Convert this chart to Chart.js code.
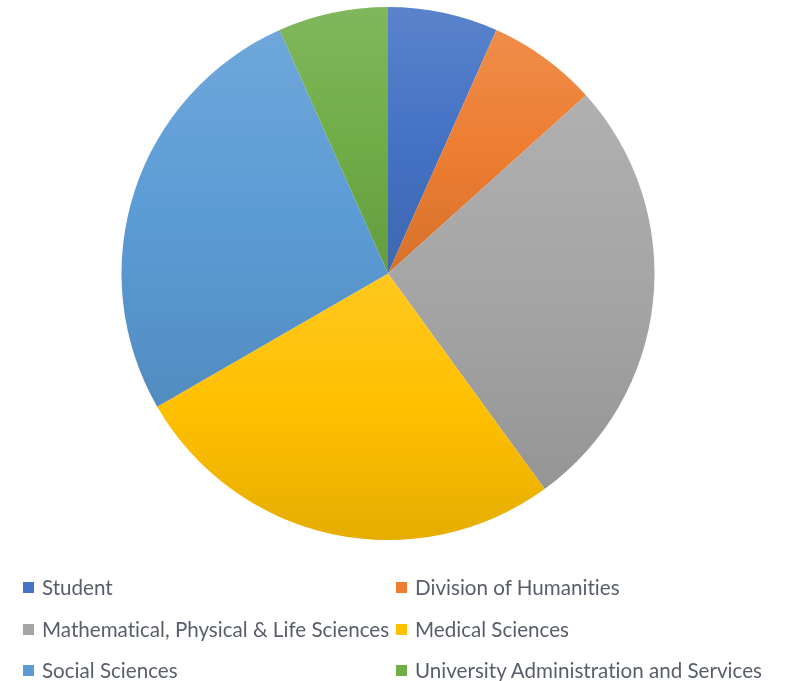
<!DOCTYPE html>
<html>
<head>
<meta charset="utf-8">
<script src="https://cdn.jsdelivr.net/npm/chart.js@4"></script>
<style>
  html, body { margin: 0; padding: 0; background: #ffffff; }
  #wrap { position: relative; width: 787px; height: 681px; }
  #wrap canvas { position: absolute; left: 0; top: 0; }
  .lg { position: absolute; font-family: Lato, "Open Sans", sans-serif; font-size: 20.6px; color: #585e69; white-space: nowrap; line-height: 24px; font-variant-ligatures: none; }
  .lg .sw { position: absolute; left: 0; top: 7px; width: 11px; height: 11px; }
  .lg .tx { position: absolute; left: 19px; top: 0; }
</style>
</head>
<body>
<div id="wrap">
  <canvas id="c" width="787" height="681"></canvas>
  <div id="legend"></div>
</div>
<script>
// ---- data ----
const categories = [
  "Student",
  "Division of Humanities",
  "Mathematical, Physical & Life Sciences",
  "Medical Sciences",
  "Social Sciences",
  "University Administration and Services"
];
const values = [1, 1, 4, 4, 4, 1];

// ---- styles ----
const baseColors = ["#4472C4", "#ED7D31", "#A5A5A5", "#FFC000", "#5B9BD5", "#70AD47"];

function mix(hex, target, t) {
  const n = parseInt(hex.slice(1), 16);
  const r = (n >> 16) & 255, g = (n >> 8) & 255, b = n & 255;
  const tr = target ? 255 : 0;
  const m = c => Math.round(c + (tr - c) * t);
  return `rgb(${m(r)},${m(g)},${m(b)})`;
}

function sliceGradient(ctx) {
  const chart = ctx.chart;
  const i = ctx.dataIndex;
  const base = baseColors[i];
  const ca = chart.chartArea;
  if (!ca || i === undefined) return base;
  const cx = (ca.left + ca.right) / 2, cy = (ca.top + ca.bottom) / 2;
  const r = Math.min(ca.right - ca.left, ca.bottom - ca.top) / 2;
  const total = values.reduce((a, b) => a + b, 0);
  let before = 0;
  for (let k = 0; k < i; k++) before += values[k];
  const a0 = -Math.PI / 2 + before / total * 2 * Math.PI;
  const a1 = a0 + values[i] / total * 2 * Math.PI;
  let ys = [cy, cy + r * Math.sin(a0), cy + r * Math.sin(a1)];
  const inRange = a => { let x = a; while (x < a0) x += 2 * Math.PI; return x <= a1; };
  if (inRange(-Math.PI / 2)) ys.push(cy - r);
  if (inRange(Math.PI / 2)) ys.push(cy + r);
  const y0 = Math.min(...ys), y1 = Math.max(...ys);
  const g = chart.ctx.createLinearGradient(0, y0, 0, y1);
  g.addColorStop(0, mix(base, true, 0.12));
  g.addColorStop(0.5, base);
  g.addColorStop(1, mix(base, false, 0.1));
  return g;
}

new Chart(document.getElementById("c"), {
  type: "pie",
  data: {
    labels: categories,
    datasets: [{
      data: values,
      backgroundColor: sliceGradient,
      borderWidth: 0
    }]
  },
  options: {
    responsive: false,
    animation: false,
    layout: { padding: { top: 7, bottom: 141, left: 0, right: 11 } },
    plugins: { legend: { display: false }, tooltip: { enabled: false } }
  }
});

// ---- legend (two columns) ----
const lg = document.getElementById("legend");
const colX = [23, 396];
const rowY = [575, 617, 658];
categories.forEach((name, i) => {
  const d = document.createElement("div");
  d.className = "lg";
  d.style.left = colX[i % 2] + "px";
  d.style.top = rowY[Math.floor(i / 2)] + "px";
  const sw = document.createElement("span");
  sw.className = "sw";
  sw.style.background = baseColors[i];
  const tx = document.createElement("span");
  tx.className = "tx";
  tx.textContent = name;
  d.appendChild(sw); d.appendChild(tx);
  lg.appendChild(d);
});
</script>
</body>
</html>
